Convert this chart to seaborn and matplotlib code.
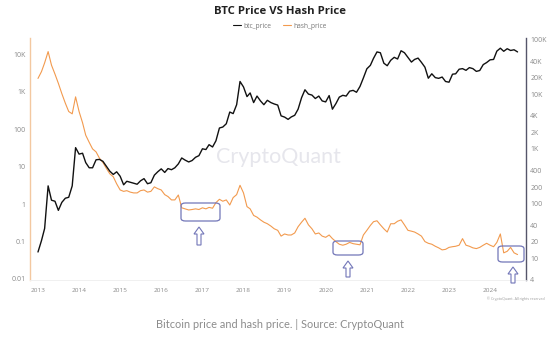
import numpy as np
import pandas as pd
import matplotlib
matplotlib.use("Agg")
import matplotlib.pyplot as plt
import matplotlib.dates as mdates
from matplotlib.patches import FancyBboxPatch, FancyArrow
from matplotlib.lines import Line2D
import seaborn as sns

# ---------------- data (monthly) ----------------
start_month = "2013-01-01"

btc_2013 = [13, 21, 35, 210, 115, 110, 75, 105, 125, 130, 210, 1050]
btc_2014 = [800, 830, 560, 450, 450, 630, 640, 590, 480, 390, 340, 380]
btc_2015 = [315, 220, 255, 245, 235, 225, 260, 285, 230, 240, 330, 380]
btc_2016 = [430, 370, 435, 415, 450, 530, 680, 620, 575, 610, 700, 750]
btc_2017 = [1000, 970, 1190, 1080, 1400, 2400, 2500, 2870, 4700, 4400, 6400, 17000]
btc_2018 = [13500, 9000, 10500, 7000, 9200, 7500, 6400, 7700, 7000, 6600, 6300, 4000]
btc_2019 = [3800, 3450, 3820, 4100, 5300, 8600, 12000, 10000, 9600, 8300, 9200, 7500]
btc_2020 = [7200, 9400, 5300, 6700, 8800, 9500, 9200, 11300, 11700, 10800, 13800, 19700]
btc_2021 = [29000, 33500, 45000, 59000, 57000, 36700, 33000, 41500, 47000, 43800, 62000, 57000]
btc_2022 = [47000, 38500, 43000, 45500, 38000, 31000, 19500, 23500, 20000, 19400, 20500, 17000]
btc_2023 = [16500, 23100, 23500, 28500, 29200, 27200, 30500, 29200, 26000, 27000, 34600, 37700]
btc_2024 = [42300, 43000, 61000, 69000, 60600, 67500, 62700, 64600, 59000]

hash_2013 = [2300, 3500, 6000, 12000, 5200, 3000, 1700, 900, 500, 300, 260, 740]
hash_2014 = [300, 150, 70, 45, 30, 25, 17, 13, 9, 6.5, 5.4, 3.5]
hash_2015 = [2.4, 2.2, 2.3, 2.1, 2.0, 2.0, 2.3, 2.4, 2.1, 2.2, 2.9, 2.6]
hash_2016 = [2.4, 1.8, 1.6, 1.3, 1.3, 1.76, 0.8, 0.75, 0.7, 0.72, 0.75, 0.72]
hash_2017 = [0.8, 0.75, 0.82, 0.78, 1.1, 1.35, 1.2, 1.3, 0.95, 1.5, 1.8, 3.2]
hash_2018 = [2.0, 0.86, 0.75, 0.5, 0.45, 0.38, 0.33, 0.3, 0.26, 0.22, 0.2, 0.14]
hash_2019 = [0.16, 0.15, 0.15, 0.17, 0.25, 0.33, 0.42, 0.28, 0.22, 0.16, 0.17, 0.14]
hash_2020 = [0.13, 0.15, 0.12, 0.1, 0.085, 0.08, 0.085, 0.095, 0.088, 0.085, 0.082, 0.15]
hash_2021 = [0.2, 0.27, 0.34, 0.36, 0.28, 0.22, 0.18, 0.3, 0.3, 0.35, 0.38, 0.28]
hash_2022 = [0.2, 0.19, 0.18, 0.16, 0.14, 0.1, 0.09, 0.085, 0.075, 0.068, 0.06, 0.062]
hash_2023 = [0.07, 0.073, 0.075, 0.08, 0.12, 0.08, 0.075, 0.068, 0.065, 0.07, 0.08, 0.09]
hash_2024 = [0.08, 0.073, 0.095, 0.16, 0.05, 0.055, 0.07, 0.05, 0.045]

left_ticks = [0.01, 0.1, 1, 10, 100, 1000, 10000]
left_labels = ["0.01", "0.1", "1", "10", "100", "1K", "10K"]
right_ticks = [4, 10, 20, 40, 100, 200, 400, 1000, 2000, 4000, 10000, 20000, 40000, 100000]
right_labels = ["4", "10", "20", "40", "100", "200", "400", "1K", "2K", "4K", "10K", "20K", "40K", "100K"]
year_ticks = list(range(2013, 2025))

title = "BTC Price VS Hash Price"
caption = "Bitcoin price and hash price. | Source: CryptoQuant"

btc_price = (btc_2013 + btc_2014 + btc_2015 + btc_2016 + btc_2017 + btc_2018 +
             btc_2019 + btc_2020 + btc_2021 + btc_2022 + btc_2023 + btc_2024)
hash_price = (hash_2013 + hash_2014 + hash_2015 + hash_2016 + hash_2017 + hash_2018 +
              hash_2019 + hash_2020 + hash_2021 + hash_2022 + hash_2023 + hash_2024)
dates = pd.date_range(start_month, periods=len(btc_price), freq="MS")
df = pd.DataFrame({"date": dates, "btc_price": btc_price, "hash_price": hash_price})

# ---------------- figure ----------------
sns.set_theme(style="white")
plt.rcParams["font.family"] = ["Open Sans", "DejaVu Sans"]

W, H = 560, 341
fig = plt.figure(figsize=(W / 100, H / 100), dpi=100)
fig.patch.set_facecolor("white")

ax = fig.add_axes([30 / W, 1 - 280 / H, 496 / W, 242 / H])
ax2 = ax.twinx()

orange = "#f29a4e"
sns.lineplot(data=df, x="date", y="hash_price", ax=ax, color=orange, lw=0.8, legend=False)
sns.lineplot(data=df, x="date", y="btc_price", ax=ax2, color="#111111", lw=1.0, legend=False)

ax.set_yscale("log")
ax2.set_yscale("log")
ax.set_ylim(0.0094, 27700)
ax2.set_ylim(4, 106000)
ax.set_xlim(pd.Timestamp("2012-10-22"), pd.Timestamp("2024-11-15"))

ax.set_yticks(left_ticks)
ax.set_yticklabels(left_labels)
ax.yaxis.set_minor_locator(matplotlib.ticker.NullLocator())
ax2.set_yticks(right_ticks)
ax2.set_yticklabels(right_labels)
ax2.yaxis.set_minor_locator(matplotlib.ticker.NullLocator())
ax.set_xticks([pd.Timestamp(f"{y}-01-01") for y in year_ticks])
ax.xaxis.set_major_formatter(mdates.DateFormatter("%Y"))

for a in (ax, ax2):
    a.set_xlabel("")
    a.set_ylabel("")
    a.tick_params(axis="both", length=0, labelsize=5.0, labelcolor="#8a8a8a", pad=3)
    a.grid(False)
    a.spines["top"].set_visible(False)
    a.spines["bottom"].set_color("#f0f0f0")
    a.spines["bottom"].set_linewidth(0.6)
    a.spines["left"].set_visible(False)
    a.spines["right"].set_visible(False)
ax.tick_params(axis="x", pad=6, labelsize=4.6)
ax.spines["left"].set_visible(True)
ax.spines["left"].set_color("#f3c8a0")
ax.spines["left"].set_linewidth(1.0)
ax2.spines["right"].set_visible(True)
ax2.spines["right"].set_color("#55556a")
ax2.spines["right"].set_linewidth(1.0)
ax.patch.set_alpha(0)

# title and legend
fig.text(0.5, 1 - 12 / H, title, ha="center", va="center", fontsize=8.2,
         fontweight="bold", color="#222222")
handles = [Line2D([], [], color="#111111", lw=0.8), Line2D([], [], color=orange, lw=0.8)]
leg = fig.legend(handles, ["btc_price", "hash_price"], loc="center",
                 bbox_to_anchor=(0.5, 1 - 26 / H), ncol=2, frameon=False,
                 fontsize=4.8, handlelength=1.1, handletextpad=0.4, columnspacing=1.8)
for t in leg.get_texts():
    t.set_color("#777777")

# watermark and copyright
fig.text(278 / W, 1 - 157 / H, "CryptoQuant", ha="center", va="center",
         fontsize=15.5, color="#e6e6ec", family=["Lato", "DejaVu Sans"], zorder=0)
fig.text(545 / W, 1 - 299 / H, "© CryptoQuant. All rights reserved", ha="right",
         va="center", fontsize=2.6, color="#9a9a9a")

# caption
fig.text(280 / W, 1 - 325 / H, caption, ha="center", va="center", fontsize=7.9,
         color="#8c8c8c", family=["Lato", "DejaVu Sans"])

# highlight boxes and arrows (figure pixel positions)
box_color = "#7276b8"
boxes = [(181, 203, 220, 221), (333, 241, 363, 255), (498, 246, 524, 262)]
for (x0, y0, x1, y1) in boxes:
    p = FancyBboxPatch((x0 / W, 1 - y1 / H), (x1 - x0) / W, (y1 - y0) / H,
                       boxstyle="round,pad=0,rounding_size=0.008",
                       transform=fig.transFigure, fill=False,
                       edgecolor=box_color, lw=0.9, zorder=5)
    fig.add_artist(p)

arrows = [(199, 227, 245), (348, 261, 277), (513, 267, 283)]
for (xc, ytip, ybase) in arrows:
    length = (ybase - ytip)
    a = FancyArrow(xc, H - ybase, 0, length, width=4.0, head_width=10,
                   head_length=7, length_includes_head=True,
                   transform=None, facecolor="white", edgecolor=box_color,
                   lw=0.8, zorder=5)
    fig.add_artist(a)

fig.savefig("out.png", dpi=100, facecolor="white")
